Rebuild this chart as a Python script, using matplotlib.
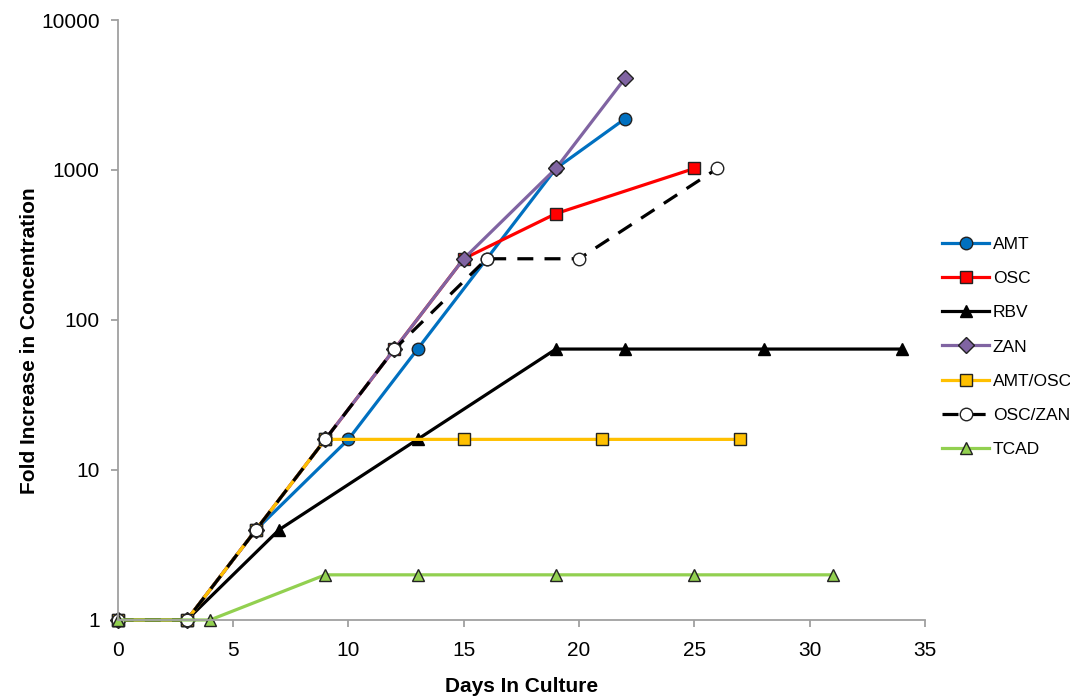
import matplotlib
matplotlib.use("Agg")
import matplotlib.pyplot as plt
from matplotlib import font_manager

fams = {f.name for f in font_manager.fontManager.ttflist}
narrow = 'Liberation Sans Narrow' if 'Liberation Sans Narrow' in fams else 'Liberation Sans'
plt.rcParams['font.family'] = ['Liberation Sans', 'DejaVu Sans']

amt_x = [0, 3, 6, 10, 13, 16, 19, 22]
amt_y = [1, 1, 4, 16, 64, 256, 1024, 2200]
osc_x = [0, 3, 6, 9, 12, 15, 19, 25]
osc_y = [1, 1, 4, 16, 64, 256, 512, 1024]
rbv_x = [0, 3, 7, 13, 19, 22, 28, 34]
rbv_y = [1, 1, 4, 16, 64, 64, 64, 64]
zan_x = [0, 3, 6, 9, 12, 15, 19, 22]
zan_y = [1, 1, 4, 16, 64, 256, 1024, 4096]
amtosc_x = [0, 3, 6, 9, 15, 21, 27]
amtosc_y = [1, 1, 4, 16, 16, 16, 16]
osczan_x = [0, 3, 6, 9, 12, 16, 20, 26]
osczan_y = [1, 1, 4, 16, 64, 256, 256, 1024]
tcad_x = [0, 4, 9, 13, 19, 25, 31]
tcad_y = [1, 1, 2, 2, 2, 2, 2]

xticks = [0, 5, 10, 15, 20, 25, 30, 35]
yticks = [1, 10, 100, 1000, 10000]

fig = plt.figure(figsize=(10.7, 6.97), dpi=100)
ax = fig.add_axes([0.110, 0.1105, 0.7545, 0.8608])

lw = 2.3
ms = 9
ec = '#222222'
ax.plot(amt_x, amt_y, '-o', color='#0070C0', lw=lw, ms=ms, mfc='#0070C0', mec=ec, mew=1, label='AMT', clip_on=False)
ax.plot(osc_x, osc_y, '-s', color='#FF0000', lw=lw, ms=ms, mfc='#FF0000', mec=ec, mew=1, label='OSC', clip_on=False)
ax.plot(rbv_x, rbv_y, '-^', color='#000000', lw=lw, ms=ms, mfc='#000000', mec='#000000', mew=1, label='RBV', clip_on=False)
ax.plot(zan_x, zan_y, '-D', color='#8064A2', lw=lw, ms=ms - 1, mfc='#8064A2', mec=ec, mew=1, label='ZAN', clip_on=False)
ax.plot(amtosc_x, amtosc_y, '-s', color='#FFC000', lw=lw, ms=ms, mfc='#FFC000', mec=ec, mew=1, label='AMT/OSC', clip_on=False)
ax.plot(osczan_x, osczan_y, '--o', color='#000000', lw=lw, ms=ms, mfc='white', mec=ec, mew=1, label='OSC/ZAN', dashes=(5, 3.5), clip_on=False)
ax.plot(tcad_x, tcad_y, '-^', color='#92D050', lw=lw, ms=ms, mfc='#92D050', mec=ec, mew=1, label='TCAD', clip_on=False)

ax.set_yscale('log')
ax.set_xlim(0, 35)
ax.set_ylim(1, 10000)
ax.set_xticks(xticks)
ax.set_xticklabels([str(t) for t in xticks])
ax.set_yticks(yticks)
ax.set_yticklabels([str(t) for t in yticks])
ax.yaxis.set_minor_locator(matplotlib.ticker.NullLocator())

for s in ['top', 'right']:
    ax.spines[s].set_visible(False)
for s in ['left', 'bottom']:
    ax.spines[s].set_color('#A0A0A0')
    ax.spines[s].set_linewidth(1.3)
ax.tick_params(axis='both', colors='#A0A0A0', labelcolor='#000000', labelsize=15, length=5, width=1.3, direction='out')
ax.tick_params(axis='x', pad=10)
ax.tick_params(axis='y', pad=8)

ax.set_xlabel('Days In Culture', fontsize=15, fontweight='bold', family=[narrow, 'DejaVu Sans'])
ax.set_ylabel('Fold Increase in Concentration', fontsize=15, fontweight='bold', family=[narrow, 'DejaVu Sans'])
ax.xaxis.set_label_coords(0.5, -0.095)
ax.yaxis.set_label_coords(-0.098, 0.465)

leg = ax.legend(loc='center left', bbox_to_anchor=(1.0, 0.455), frameon=False, fontsize=12.5,
                handlelength=2.7, handletextpad=0.2, labelspacing=1.09, borderaxespad=0.6)

fig.savefig('out.png', dpi=100)
